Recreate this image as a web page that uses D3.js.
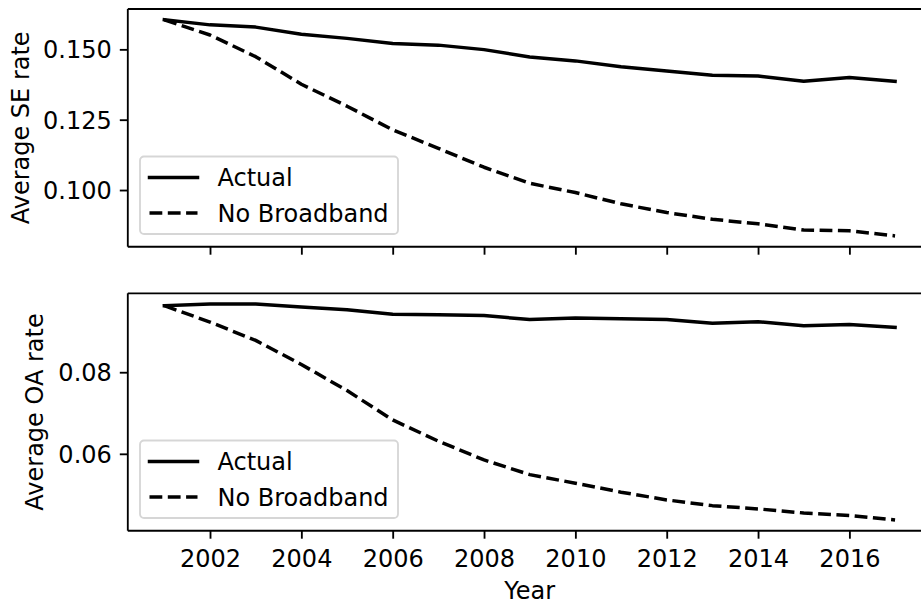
<!DOCTYPE html>
<html>
<head>
<meta charset="utf-8">
<script src="https://cdn.jsdelivr.net/npm/d3@7"></script>
<style>
  html, body { margin: 0; padding: 0; background: #fff; }
  svg { display: block; }
  text { font-family: "DejaVu Sans", sans-serif; fill: #000; }
</style>
</head>
<body>
<svg id="chart" width="921" height="606"></svg>
<script>
// ---- data ----
const years = [2001, 2002, 2003, 2004, 2005, 2006, 2007, 2008, 2009, 2010, 2011, 2012, 2013, 2014, 2015, 2016, 2017];
const seActual      = [0.1605, 0.1587, 0.1579, 0.1554, 0.1539, 0.1521, 0.1515, 0.1499, 0.1473, 0.1459, 0.1438, 0.1423, 0.1408, 0.1405, 0.1387, 0.1400, 0.1386];
const seNoBroadband = [0.1605, 0.1551, 0.1474, 0.1376, 0.1298, 0.1214, 0.1148, 0.1081, 0.1024, 0.0991, 0.0951, 0.0920, 0.0896, 0.0880, 0.0858, 0.0855, 0.0837];
const oaActual      = [0.0963, 0.0967, 0.0967, 0.0960, 0.0953, 0.0942, 0.0941, 0.0939, 0.0929, 0.0933, 0.0931, 0.0929, 0.0920, 0.0924, 0.0914, 0.0917, 0.0910];
const oaNoBroadband = [0.0963, 0.0923, 0.0878, 0.0819, 0.0755, 0.0683, 0.0631, 0.0585, 0.0549, 0.0528, 0.0506, 0.0487, 0.0473, 0.0465, 0.0455, 0.0449, 0.0438];
const seriesNames = ["Actual", "No Broadband"];
const yearTicks = [2002, 2004, 2006, 2008, 2010, 2012, 2014, 2016];
const seTicks = [0.100, 0.125, 0.150];
const oaTicks = [0.06, 0.08];
const yLabels = ["Average SE rate", "Average OA rate"];
const xLabel = "Year";

// ---- layout ----
const W = 921, H = 606;
const FS = 24;
const left = 127.8, right = 931.6;
const panels = [
  { top: 9, bottom: 246.7, series: [seActual, seNoBroadband], ticks: seTicks, fmt: d3.format(".3f"), label: yLabels[0], labelX: 29, showX: false },
  { top: 293.3, bottom: 530.7, series: [oaActual, oaNoBroadband], ticks: oaTicks, fmt: d3.format(".2f"), label: yLabels[1], labelX: 43, showX: true }
];
const dashes = [null, "12.8,5.5"];
const svg = d3.select("#chart");

function padded(ext, frac) {
  const r = ext[1] - ext[0];
  return [ext[0] - r * frac, ext[1] + r * frac];
}
const x = d3.scaleLinear().domain(padded(d3.extent(years), 0.05)).range([left, right]);

panels.forEach((p, pi) => {
  const all = p.series.flat();
  const y = d3.scaleLinear().domain(padded(d3.extent(all), 0.05)).range([p.bottom, p.top]);
  const g = svg.append("g");

  // lines
  const line = d3.line().x((d, i) => x(years[i])).y(d => y(d));
  p.series.forEach((s, si) => {
    g.append("path").datum(s)
      .attr("d", line)
      .attr("fill", "none")
      .attr("stroke", "#000")
      .attr("stroke-width", 3.5)
      .attr("stroke-linejoin", "round")
      .attr("stroke-linecap", si === 0 ? "square" : "butt")
      .attr("stroke-dasharray", dashes[si]);
  });

  // y axis
  const ya = g.append("g").attr("transform", `translate(${left},0)`)
    .call(d3.axisLeft(y).tickValues(p.ticks).tickFormat(p.fmt).tickSize(8).tickPadding(8));
  ya.attr("font-size", FS).attr("font-family", "DejaVu Sans");
  ya.select(".domain").remove();
  ya.selectAll(".tick line").attr("stroke", "#000").attr("stroke-width", 1.85);
  ya.selectAll(".tick text").attr("font-size", FS).attr("dy", "0.36em");

  // x axis
  const xa = g.append("g").attr("transform", `translate(0,${p.bottom})`)
    .call(d3.axisBottom(x).tickValues(yearTicks).tickFormat(d3.format("d")).tickSize(8).tickPadding(8));
  xa.attr("font-size", FS).attr("font-family", "DejaVu Sans");
  xa.select(".domain").remove();
  xa.selectAll(".tick line").attr("stroke", "#000").attr("stroke-width", 1.85);
  if (p.showX) {
    xa.selectAll(".tick text").attr("font-size", FS).attr("y", 36.8).attr("dy", 0);
  } else {
    xa.selectAll(".tick text").remove();
  }

  // spines (right spine lies beyond the canvas edge)
  g.append("line").attr("x1", left).attr("x2", W).attr("y1", p.top).attr("y2", p.top).attr("stroke", "#000").attr("stroke-width", 1.85);
  g.append("line").attr("x1", left).attr("x2", W).attr("y1", p.bottom).attr("y2", p.bottom).attr("stroke", "#000").attr("stroke-width", 1.85);
  g.append("line").attr("x1", left).attr("x2", left).attr("y1", p.top).attr("y2", p.bottom).attr("stroke", "#000").attr("stroke-width", 1.85);

  // y label
  const cy = (p.top + p.bottom) / 2;
  g.append("text")
    .attr("transform", `translate(${p.labelX},${cy}) rotate(-90)`)
    .attr("text-anchor", "middle")
    .attr("font-size", FS)
    .text(p.label);

  // legend
  const lx = 140, lw = 258, lh = 77.5;
  const ly = p.bottom - 12.7 - lh;
  const lg = g.append("g").attr("transform", `translate(${lx},${ly})`);
  lg.append("rect").attr("width", lw).attr("height", lh).attr("rx", 4).attr("ry", 4)
    .attr("fill", "#fff").attr("fill-opacity", 0.8)
    .attr("stroke", "#cccccc").attr("stroke-opacity", 0.8).attr("stroke-width", 1.85);
  seriesNames.forEach((name, si) => {
    const rowY = 21 + si * 35.5;
    lg.append("line").attr("x1", 9.5).attr("x2", 57.5).attr("y1", rowY).attr("y2", rowY)
      .attr("stroke", "#000").attr("stroke-width", 3.5)
      .attr("stroke-linecap", si === 0 ? "square" : "butt")
      .attr("stroke-dasharray", dashes[si]);
    lg.append("text").attr("x", 77.5).attr("y", rowY + 8.5).attr("font-size", FS).text(name);
  });
});

// x label
svg.append("text")
  .attr("x", x(d3.mean(x.domain())))
  .attr("y", 598.5)
  .attr("text-anchor", "middle")
  .attr("font-size", FS)
  .text(xLabel);
</script>
</body>
</html>
